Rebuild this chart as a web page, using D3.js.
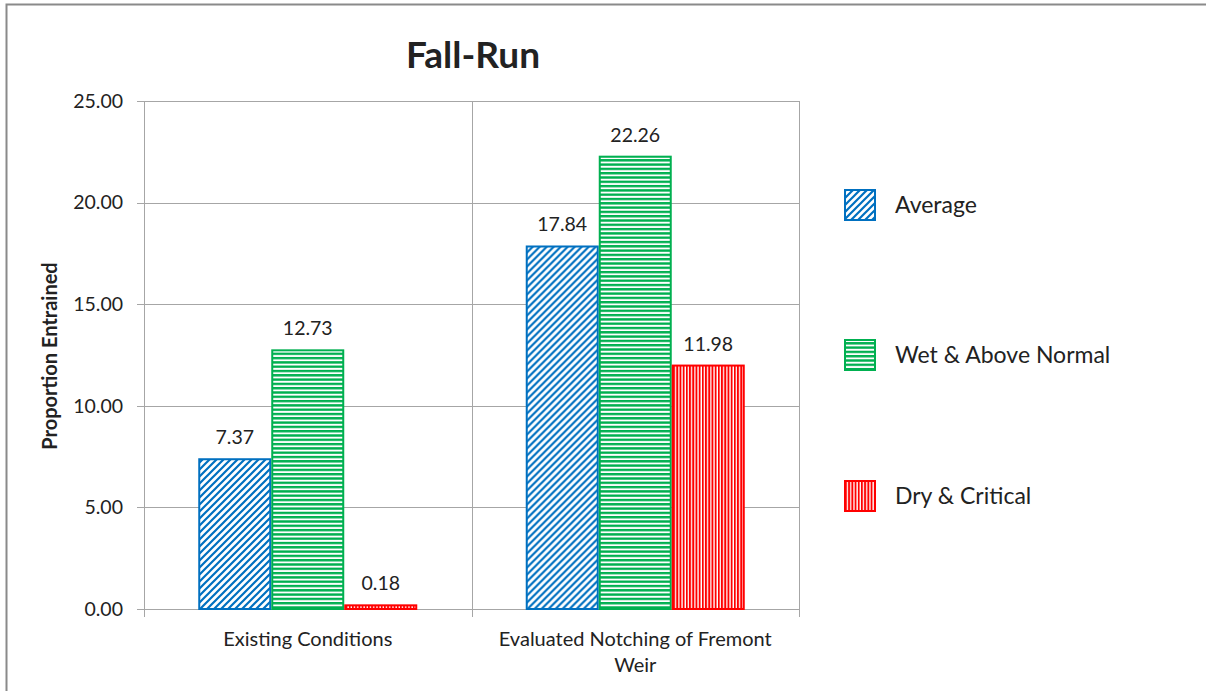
<!DOCTYPE html>
<html>
<head>
<meta charset="utf-8">
<script src="https://cdn.jsdelivr.net/npm/d3@7"></script>
<style>
  html, body { margin: 0; padding: 0; background: #fff; }
  svg { display: block; }
  text { font-family: Lato, "Open Sans", sans-serif; fill: #222; }
</style>
</head>
<body>
<svg id="chart" width="1206" height="691"></svg>
<script>
// ---- data ----
const categories = ["Existing Conditions", "Evaluated Notching of Fremont Weir"];
const seriesNames = ["Average", "Wet & Above Normal", "Dry & Critical"];
const averageValues = [7.37, 17.84];
const wetValues = [12.73, 22.26];
const dryValues = [0.18, 11.98];
const yTickValues = [0, 5, 10, 15, 20, 25];
const titleText = "Fall-Run";
const yAxisTitle = "Proportion Entrained";

const seriesValues = [averageValues, wetValues, dryValues];
const colors = ["#0070C0", "#00B050", "#FF0000"];
const patternIds = ["pat-diag", "pat-horiz", "pat-vert"];

const svg = d3.select("#chart");
const W = 1206, H = 691;

// outer frame
svg.append("rect").attr("x", 6.5).attr("y", 4.5).attr("width", W + 10).attr("height", H + 10)
  .attr("fill", "#fff").attr("stroke", "#8a8a8a").attr("stroke-width", 2);

// patterns
const defs = svg.append("defs");
const pd = defs.append("pattern").attr("id", "pat-diag").attr("patternUnits", "userSpaceOnUse")
  .attr("width", 7).attr("height", 7);
pd.append("rect").attr("width", 7).attr("height", 7).attr("fill", "#fff");
pd.append("path").attr("d", "M-1,8 L8,-1 M-1,1 L1,-1 M6,8 L8,6")
  .attr("stroke", colors[0]).attr("stroke-width", 2.2);

const ph = defs.append("pattern").attr("id", "pat-horiz").attr("patternUnits", "userSpaceOnUse")
  .attr("width", 8).attr("height", 4.3);
ph.append("rect").attr("width", 8).attr("height", 4.3).attr("fill", "#fff");
ph.append("rect").attr("y", 0).attr("width", 8).attr("height", 2.4).attr("fill", colors[1]);

const pv = defs.append("pattern").attr("id", "pat-vert").attr("patternUnits", "userSpaceOnUse")
  .attr("width", 3.2).attr("height", 8);
pv.append("rect").attr("width", 3.2).attr("height", 8).attr("fill", "#fff");
pv.append("rect").attr("x", 0).attr("width", 1.9).attr("height", 8).attr("fill", colors[2]);

// layout
const plot = { left: 144, right: 799, top: 101, bottom: 609 };

const x0 = d3.scaleBand().domain(categories).range([plot.left, plot.right]).paddingInner(0).paddingOuter(0);
const x1 = d3.scaleBand().domain(seriesNames).range([0, x0.bandwidth()]).paddingInner(0).paddingOuter(0.743);
const y = d3.scaleLinear().domain([0, 25]).range([plot.bottom, plot.top]);

const gridColor = "#a6a6a6";

// horizontal gridlines
svg.append("g").selectAll("line").data(yTickValues).join("line")
  .attr("x1", plot.left - 7).attr("x2", plot.right)
  .attr("y1", d => Math.round(y(d)) + 0.5).attr("y2", d => Math.round(y(d)) + 0.5)
  .attr("stroke", gridColor).attr("stroke-width", 1);

// vertical category boundaries (grid + ticks)
const bounds = [plot.left, plot.left + x0.bandwidth(), plot.right];
svg.append("g").selectAll("line").data(bounds).join("line")
  .attr("x1", d => Math.round(d) + 0.5).attr("x2", d => Math.round(d) + 0.5)
  .attr("y1", plot.top).attr("y2", plot.bottom + 8)
  .attr("stroke", gridColor).attr("stroke-width", 1);

// y axis labels
svg.append("g").selectAll("text").data(yTickValues).join("text")
  .attr("x", 123).attr("y", d => y(d)).attr("dy", "0.35em")
  .attr("text-anchor", "end").attr("font-size", 19.5)
  .text(d => d3.format(".2f")(d));

// bars
const groups = svg.append("g").selectAll("g").data(categories).join("g")
  .attr("transform", d => `translate(${x0(d)},0)`);

groups.each(function(cat, ci) {
  const g = d3.select(this);
  seriesNames.forEach((s, si) => {
    const v = seriesValues[si][ci];
    const bx = x1(s), bw = x1.bandwidth();
    g.append("rect")
      .attr("x", bx + 1).attr("y", y(v))
      .attr("width", bw - 2).attr("height", Math.max(0, y(0) - y(v)))
      .attr("fill", `url(#${patternIds[si]})`)
      .attr("stroke", colors[si]).attr("stroke-width", 2);
    g.append("text")
      .attr("x", bx + bw / 2).attr("y", y(v) - 15)
      .attr("text-anchor", "middle").attr("font-size", 19.5)
      .text(d3.format(".2f")(v));
  });
});

// category labels
function wrap(textSel, width) {
  textSel.each(function() {
    const text = d3.select(this);
    const words = text.text().split(/\s+/);
    const xx = text.attr("x"), yy = text.attr("y");
    text.text(null);
    let line = [], lineNo = 0;
    let tspan = text.append("tspan").attr("x", xx).attr("y", yy);
    words.forEach(w => {
      line.push(w);
      tspan.text(line.join(" "));
      if (tspan.node().getComputedTextLength() > width && line.length > 1) {
        line.pop();
        tspan.text(line.join(" "));
        line = [w];
        lineNo++;
        tspan = text.append("tspan").attr("x", xx).attr("y", +yy + lineNo * 26).text(w);
      }
    });
  });
}
svg.append("g").selectAll("text").data(categories).join("text")
  .attr("x", d => x0(d) + x0.bandwidth() / 2).attr("y", 646)
  .attr("text-anchor", "middle").attr("font-size", 20)
  .text(d => d)
  .call(wrap, 300);

// title
svg.append("text").attr("x", 473).attr("y", 68).attr("text-anchor", "middle")
  .attr("font-size", 37).attr("font-weight", "bold").attr("fill", "#000").text(titleText);

// y axis title
svg.append("text").attr("transform", "translate(57,356) rotate(-90)")
  .attr("text-anchor", "middle").attr("font-size", 20).attr("font-weight", "bold")
  .attr("fill", "#000").text(yAxisTitle);

// legend
const legendY = [205, 355, 496];
const lg = svg.append("g").selectAll("g").data(seriesNames).join("g")
  .attr("transform", (d, i) => `translate(845,${legendY[i]})`);
lg.append("rect").attr("x", 0).attr("y", -15).attr("width", 30).attr("height", 30)
  .attr("fill", (d, i) => `url(#${patternIds[i]})`)
  .attr("stroke", (d, i) => colors[i]).attr("stroke-width", 2);
lg.append("text").attr("x", 50).attr("y", 0).attr("dy", "0.35em")
  .attr("font-size", 23).text(d => d);
</script>
</body>
</html>
